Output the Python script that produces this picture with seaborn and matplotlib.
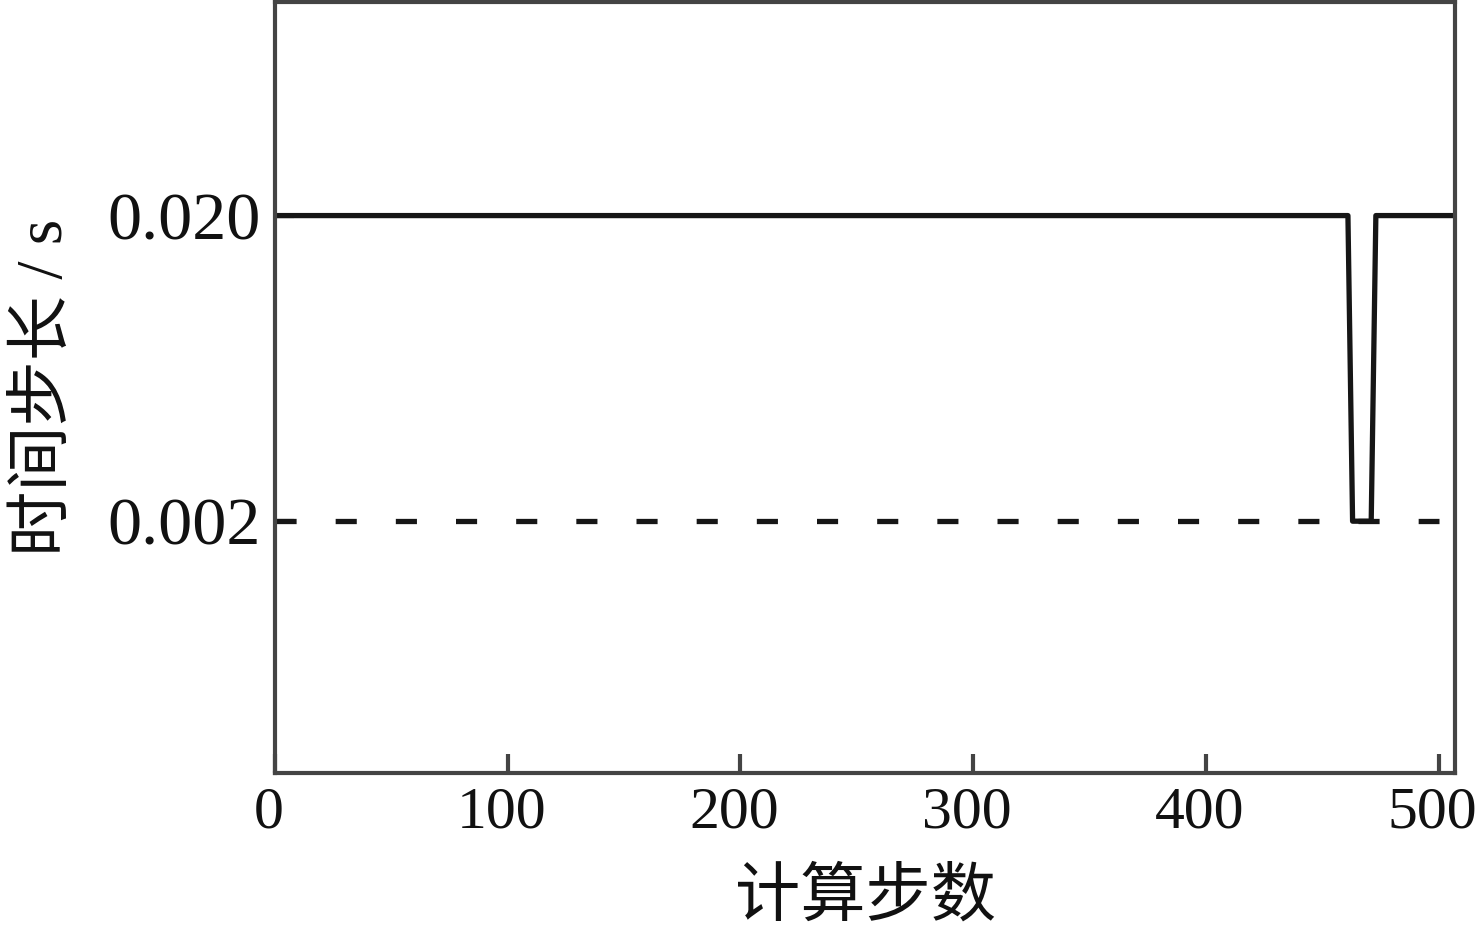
import matplotlib
matplotlib.use("Agg")
import matplotlib.pyplot as plt
import matplotlib.ticker as mticker
import matplotlib.transforms as mtransforms
import numpy as np
import pandas as pd
import seaborn as sns

# data
steps = [0, 461, 463, 471, 473, 510]
dt = [0.020, 0.020, 0.002, 0.002, 0.020, 0.020]
ref_steps = [0, 500]
ref_dt = [0.002, 0.002]
xticks = [0, 100, 200, 300, 400, 500]
yticks = [0.002, 0.020]
ytick_labels = ["0.002", "0.020"]

sns.set_style("ticks")
plt.rcParams["font.family"] = ["Liberation Serif", "Noto Sans CJK SC", "DejaVu Sans"]

df = pd.DataFrame({"step": steps, "dt": dt})
ref = pd.DataFrame({"step": ref_steps, "dt": ref_dt})

fig = plt.figure(figsize=(14.77, 9.34), dpi=100)
ax = fig.add_axes([0.1862, 0.1724, 0.7989, 0.8255])

sns.lineplot(data=df, x="step", y="dt", ax=ax, color="#161616", lw=3.8,
             estimator=None, sort=False)
sns.lineplot(data=ref, x="step", y="dt", ax=ax, color="#161616", lw=3.8,
             estimator=None, sort=False, dashes=False)
ax.lines[-1].set_dashes((4.0, 7.4))

ax.set_yscale("log")
ax.set_ylim(0.0003, 0.1)
ax.set_xlim(0, 507)
ax.set_xticks(xticks)
ax.set_yticks(yticks)
ax.set_yticklabels(ytick_labels)
ax.yaxis.set_minor_locator(mticker.NullLocator())

for s in ax.spines.values():
    s.set_color("#444444")
    s.set_linewidth(3.0)

ax.tick_params(axis="both", direction="in", length=14, width=3, color="#444444",
               labelcolor="#111111", pad=10)
ax.tick_params(axis="x", labelsize=43)
ax.tick_params(axis="y", labelsize=49)

# x tick labels sit a little left of their ticks in the original
shift = mtransforms.ScaledTranslation(-6 / 100, 0, fig.dpi_scale_trans)
for lab in ax.get_xticklabels():
    lab.set_transform(lab.get_transform() + shift)

ax.set_xlabel("计算步数", fontsize=47, color="#111111", labelpad=20)
ax.set_ylabel("时间步长 / s", fontsize=47, color="#111111", labelpad=23)

fig.savefig("out.png", dpi=100)
